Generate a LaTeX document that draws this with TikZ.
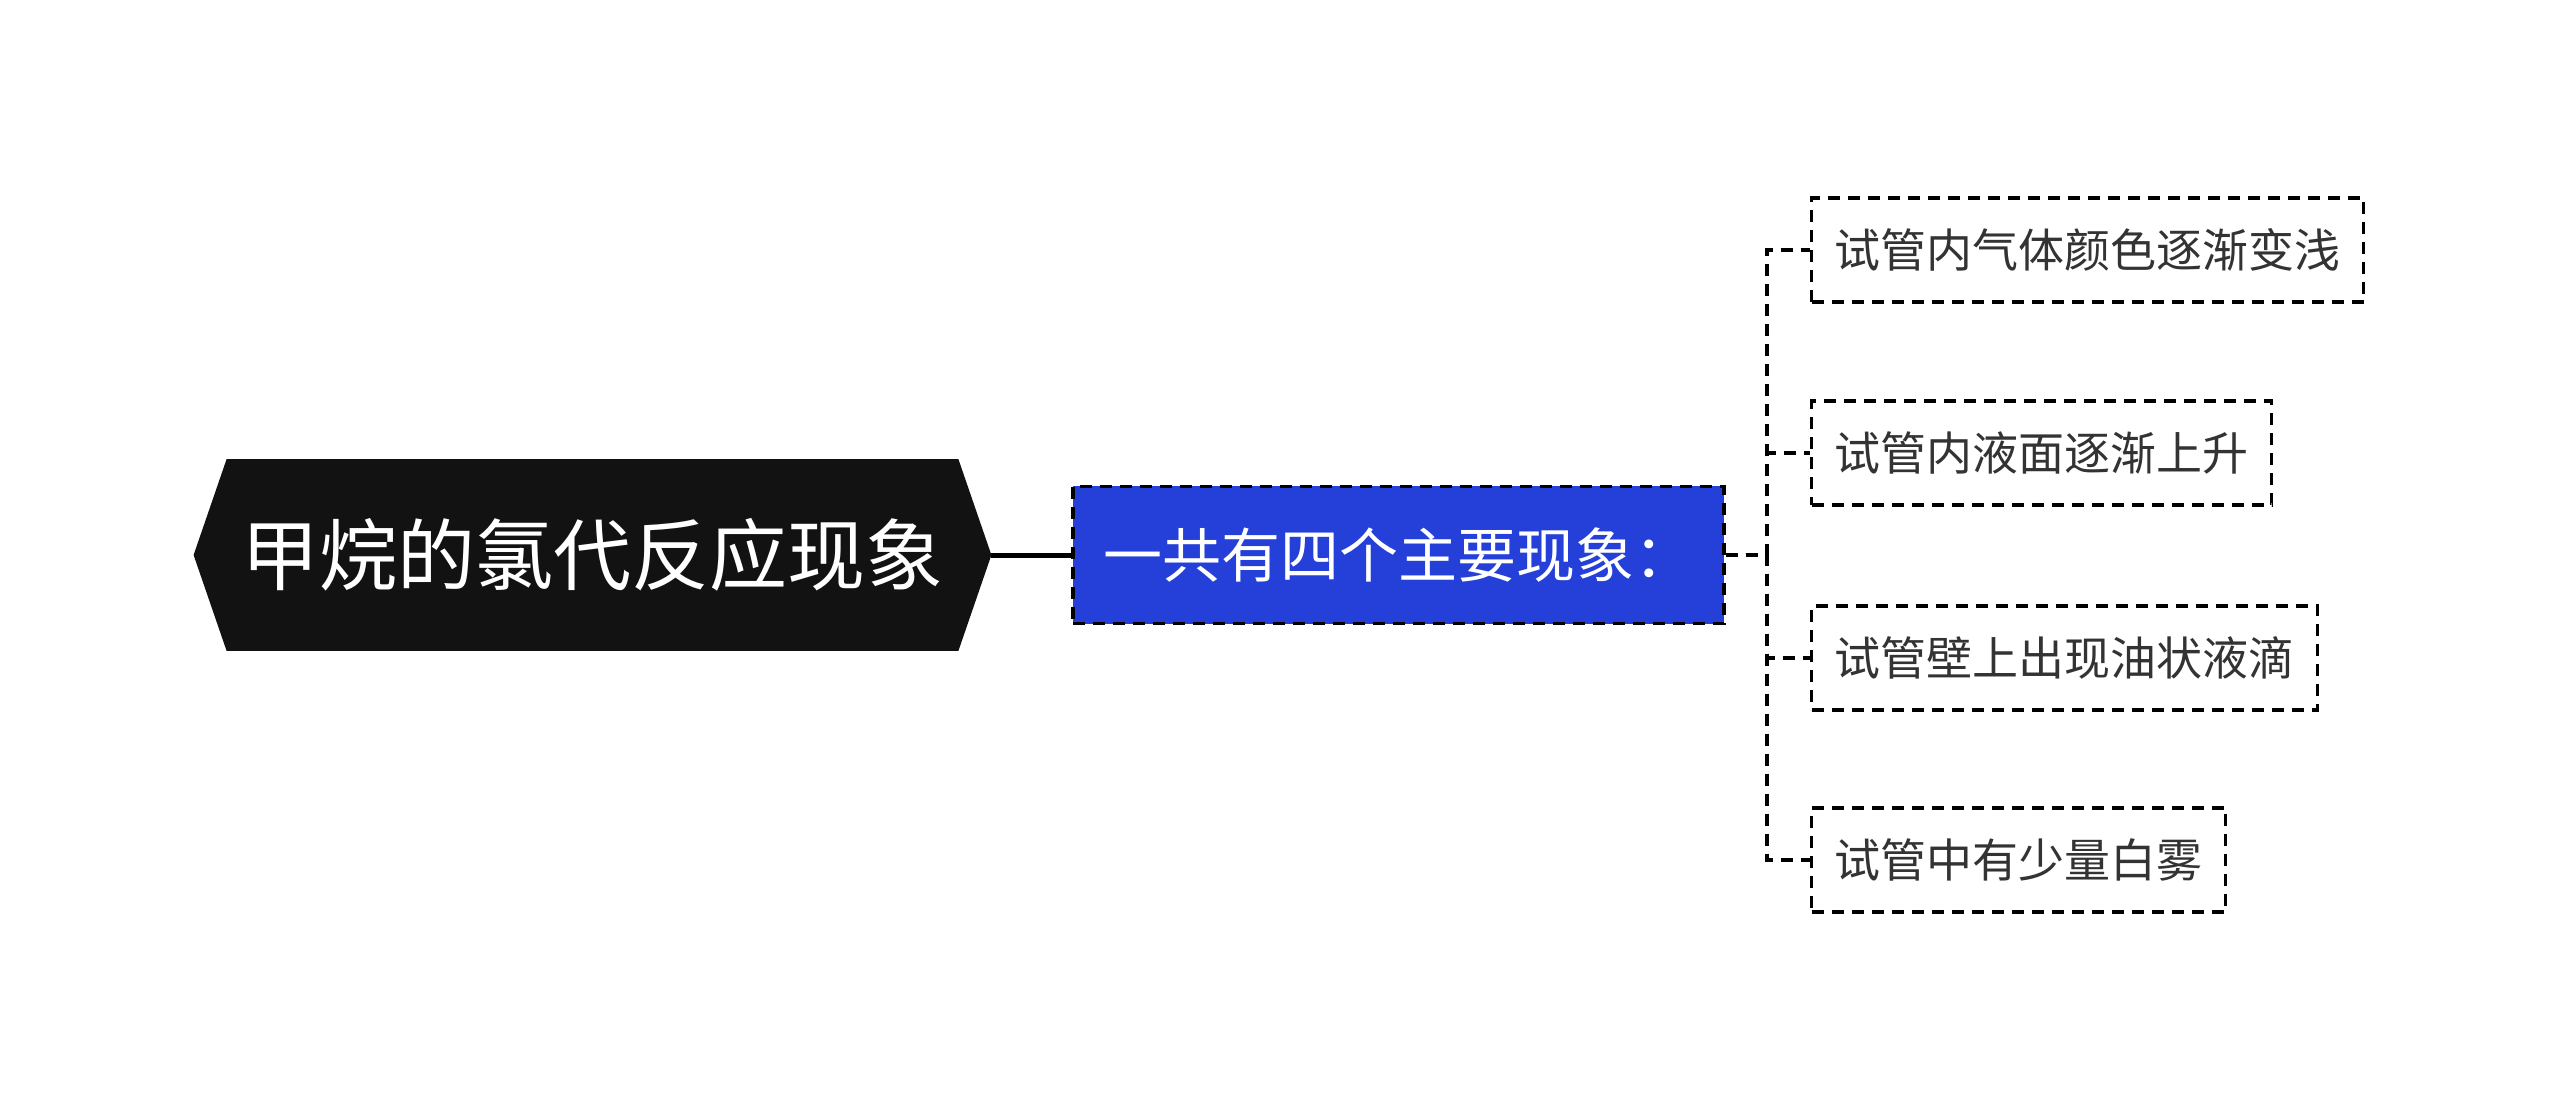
\documentclass[tikz,border=0pt]{standalone}
\usepackage{fontspec}
\newfontfamily\cjk{Noto Sans CJK SC}
\usetikzlibrary{positioning, backgrounds, calc}
\definecolor{mainblue}{RGB}{36,64,216}
\definecolor{leaftext}{RGB}{51,51,51}
\newcommand{\linecolor}{black}
\tikzset{dashline/.style={draw=\linecolor, line width=1.6pt, dash pattern=on 6pt off 4pt}}
\tikzset{leafbox/.style={dashline, fill=white, text=leaftext, font=\cjk\fontsize{23pt}{23pt}\selectfont,
	inner xsep=11.5pt, inner ysep=0pt, minimum height=52pt, anchor=west}}

\begin{document}
\begin{tikzpicture}[x=0.5pt, y=-0.5pt]
	\useasboundingbox (0,0) rectangle (2560,1112);
	%%
	\node[text=white, font=\cjk\fontsize{39pt}{39pt}\selectfont, inner xsep=7.25pt, minimum height=95.5pt] (root) at (592.5,555) {甲烷的氯代反应现象};
	\begin{scope}[on background layer]
		\fill[black!93] ([xshift=-16.5pt]root.west) -- (root.north west) -- (root.north east) -- ([xshift=16.5pt]root.east) -- (root.south east) -- (root.south west) -- cycle;
	\end{scope}
	%%
	\node[dashline, fill=mainblue, text=white, font=\cjk\fontsize{29.5pt}{29.5pt}\selectfont, inner xsep=15.25pt, minimum height=68.5pt] (main) at (1398.5,555) {一共有四个主要现象：};
	%%
	\node[leafbox] (leaf1) at (1810,250) {试管内气体颜色逐渐变浅};
	\node[leafbox] (leaf2) at (1810,453) {试管内液面逐渐上升};
	\node[leafbox] (leaf3) at (1810,658) {试管壁上出现油状液滴};
	\node[leafbox] (leaf4) at (1810,860) {试管中有少量白雾};
	%%
	\coordinate (spine) at (1767,555);
	\begin{scope}[on background layer]
		\draw[\linecolor, line width=2.5pt] ([xshift=16.5pt]root.east) -- (main.west);
		\foreach \n in {1,2,3,4} {
			\draw[dashline] (main.east) -- (spine) |- (leaf\n.west);
		}
	\end{scope}
\end{tikzpicture}
\end{document}
